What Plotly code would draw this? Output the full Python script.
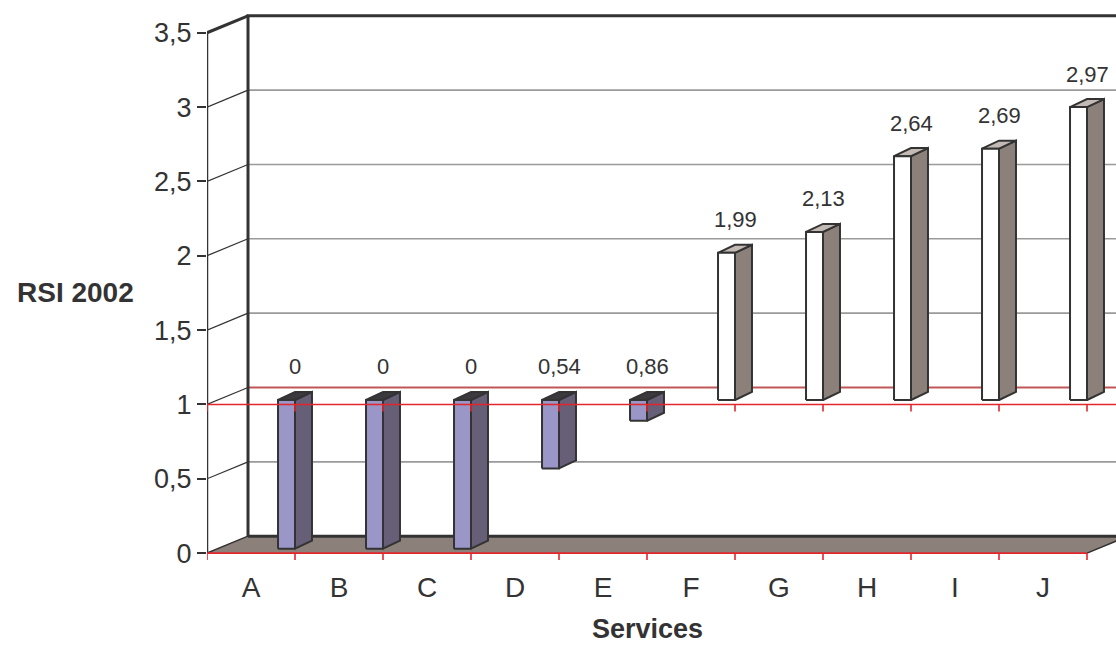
import plotly.graph_objects as go

# ---- data -------------------------------------------------------------
services = ["A", "B", "C", "D", "E", "F", "G", "H", "I", "J"]
rsi_2002 = [0, 0, 0, 0.54, 0.86, 1.99, 2.13, 2.64, 2.69, 2.97]
y_ticks = [0, 0.5, 1, 1.5, 2, 2.5, 3, 3.5]
y_tick_labels = ["0", "0,5", "1", "1,5", "2", "2,5", "3", "3,5"]
reference_level = 1  # bars grow up or down from this value

# ---- pseudo-3D geometry (in axis units) --------------------------------
X_LEFT = -0.5
X_FRONT_END = len(services) - 0.5
X_FAR = len(services) + 1.0          # beyond the visible range, gets clipped
Y_TOP = 3.5
WALL_DX, WALL_DY = 0.466, 0.114      # depth of the back wall
BAR_X0, BAR_W = 0.307, 0.193         # front face of a column, relative to its slot
BAR_LIFT = 0.03                      # columns stand a little behind the front edge
BAR_DX, BAR_DY = 0.193, 0.054        # depth of a column
TICK_DROP = 0.047

# ---- colours ------------------------------------------------------------
INK = "#333333"
GRID = "#9a9a9a"
FLOOR = "#8c807b"
RED_FRONT = "#e3262c"
RED_BACK = "#c05656"
LOW_STYLE = dict(front="#9b96c8", side="#675e78", top="#3b393e")
HIGH_STYLE = dict(front="#ffffff", side="#8c807b", top="#c4bab5")

fig = go.Figure()


def lines(xs, ys, color, width):
    fig.add_trace(go.Scatter(x=xs, y=ys, mode="lines",
                             line=dict(color=color, width=width),
                             hoverinfo="skip", showlegend=False))


def polygon(xs, ys, fill, edge=INK, width=2):
    fig.add_trace(go.Scatter(x=xs + [xs[0]], y=ys + [ys[0]], mode="lines",
                             fill="toself", fillcolor=fill,
                             line=dict(color=edge, width=width),
                             hoverinfo="skip", showlegend=False))


def segments(pairs):
    xs, ys = [], []
    for (xa, ya), (xb, yb) in pairs:
        xs += [xa, xb, None]
        ys += [ya, yb, None]
    return xs, ys


back_x = X_LEFT + WALL_DX

# back-wall grid lines
grey_levels = [v for v in y_ticks[1:-1] if v != reference_level]
xs, ys = segments([((back_x, v + WALL_DY), (X_FAR, v + WALL_DY)) for v in grey_levels])
lines(xs, ys, GRID, 1.6)
lines([back_x, X_FAR], [reference_level + WALL_DY] * 2, RED_BACK, 2)

# side-wall diagonals
xs, ys = segments([((X_LEFT, v), (back_x, v + WALL_DY)) for v in y_ticks[1:-1]])
lines(xs, ys, INK, 1.2)

# floor
polygon([X_LEFT, X_FRONT_END, X_FRONT_END + WALL_DX, back_x],
        [0, 0, WALL_DY, WALL_DY], FLOOR, edge=FLOOR, width=0.5)
xs, ys = segments([((X_LEFT, 0), (back_x, WALL_DY)),
                   ((X_FRONT_END, 0), (X_FRONT_END + WALL_DX, WALL_DY))])
lines(xs, ys, INK, 1.5)
lines([back_x, X_FAR], [WALL_DY, WALL_DY], INK, 3)

# wall frame
lines([back_x, back_x, X_FAR], [WALL_DY, Y_TOP + WALL_DY, Y_TOP + WALL_DY], INK, 3)
lines([X_LEFT, back_x], [Y_TOP, Y_TOP + WALL_DY], INK, 3)
lines([X_LEFT, X_LEFT], [0, Y_TOP], INK, 2.5)

# columns
for i, v in enumerate(rsi_2002):
    lo, hi = min(v, reference_level), max(v, reference_level)
    style = HIGH_STYLE if v >= reference_level else LOW_STYLE
    xl, xr, xb = i + BAR_X0, i + BAR_X0 + BAR_W, i + BAR_X0 + BAR_W + BAR_DX
    y_lo, y_hi = lo + BAR_LIFT, hi + BAR_LIFT
    polygon([xr, xb, xb, xr], [y_lo, y_lo + BAR_DY, y_hi + BAR_DY, y_hi], style["side"])
    polygon([xl, xr, xb, xr + BAR_DX - BAR_W],
            [y_hi, y_hi, y_hi + BAR_DY, y_hi + BAR_DY], style["top"])
    polygon([xl, xr, xr, xl], [y_lo, y_lo, y_hi, y_hi], style["front"])
    fig.add_annotation(x=xr, y=y_hi, text=f"{v:g}".replace(".", ","),
                       showarrow=False, yshift=33, xanchor="center",
                       font=dict(size=22, color=INK))

# category axis lines (value 0 and the reference value), with boundary ticks
bounds = [X_LEFT + k for k in range(len(services) + 1)]
lines([X_LEFT, X_FRONT_END], [0, 0], RED_FRONT, 1.6)
lines([X_LEFT, X_FAR], [reference_level] * 2, RED_FRONT, 1.6)
xs, ys = segments([((b, lvl), (b, lvl - TICK_DROP))
                   for lvl in (0, reference_level) for b in bounds])
lines(xs, ys, RED_FRONT, 1.6)

# axis titles
fig.add_annotation(x=(X_LEFT + X_FRONT_END) / 2, xref="x", y=-0.108, yref="paper",
                   xanchor="center", yanchor="middle",
                   text="<b>Services</b>", showarrow=False,
                   font=dict(size=27, color=INK))
fig.add_annotation(x=-0.1452, xref="paper", y=1.75, yref="y",
                   xanchor="center", yanchor="middle",
                   text="<b>RSI 2002</b>", showarrow=False,
                   font=dict(size=28, color=INK))

fig.update_layout(
    width=1116, height=645,
    margin=dict(l=207, r=0, t=3, b=77),
    paper_bgcolor="white", plot_bgcolor="white",
    font=dict(family="Liberation Sans, Arial, sans-serif", color=INK),
    xaxis=dict(range=[X_LEFT, X_LEFT + 909 / 88], tickmode="array",
               tickvals=list(range(len(services))), ticktext=services,
               ticks="", showgrid=False, zeroline=False, showline=False,
               tickfont=dict(size=28, color=INK), ticklabelstandoff=0),
    yaxis=dict(range=[-0.1, 3.7], tickmode="array", tickvals=y_ticks,
               ticktext=y_tick_labels, ticks="outside", ticklen=9,
               tickwidth=1.5, tickcolor=INK, showgrid=False, zeroline=False,
               showline=False, tickfont=dict(size=27, color=INK)),
)

fig.write_html("out.html")
